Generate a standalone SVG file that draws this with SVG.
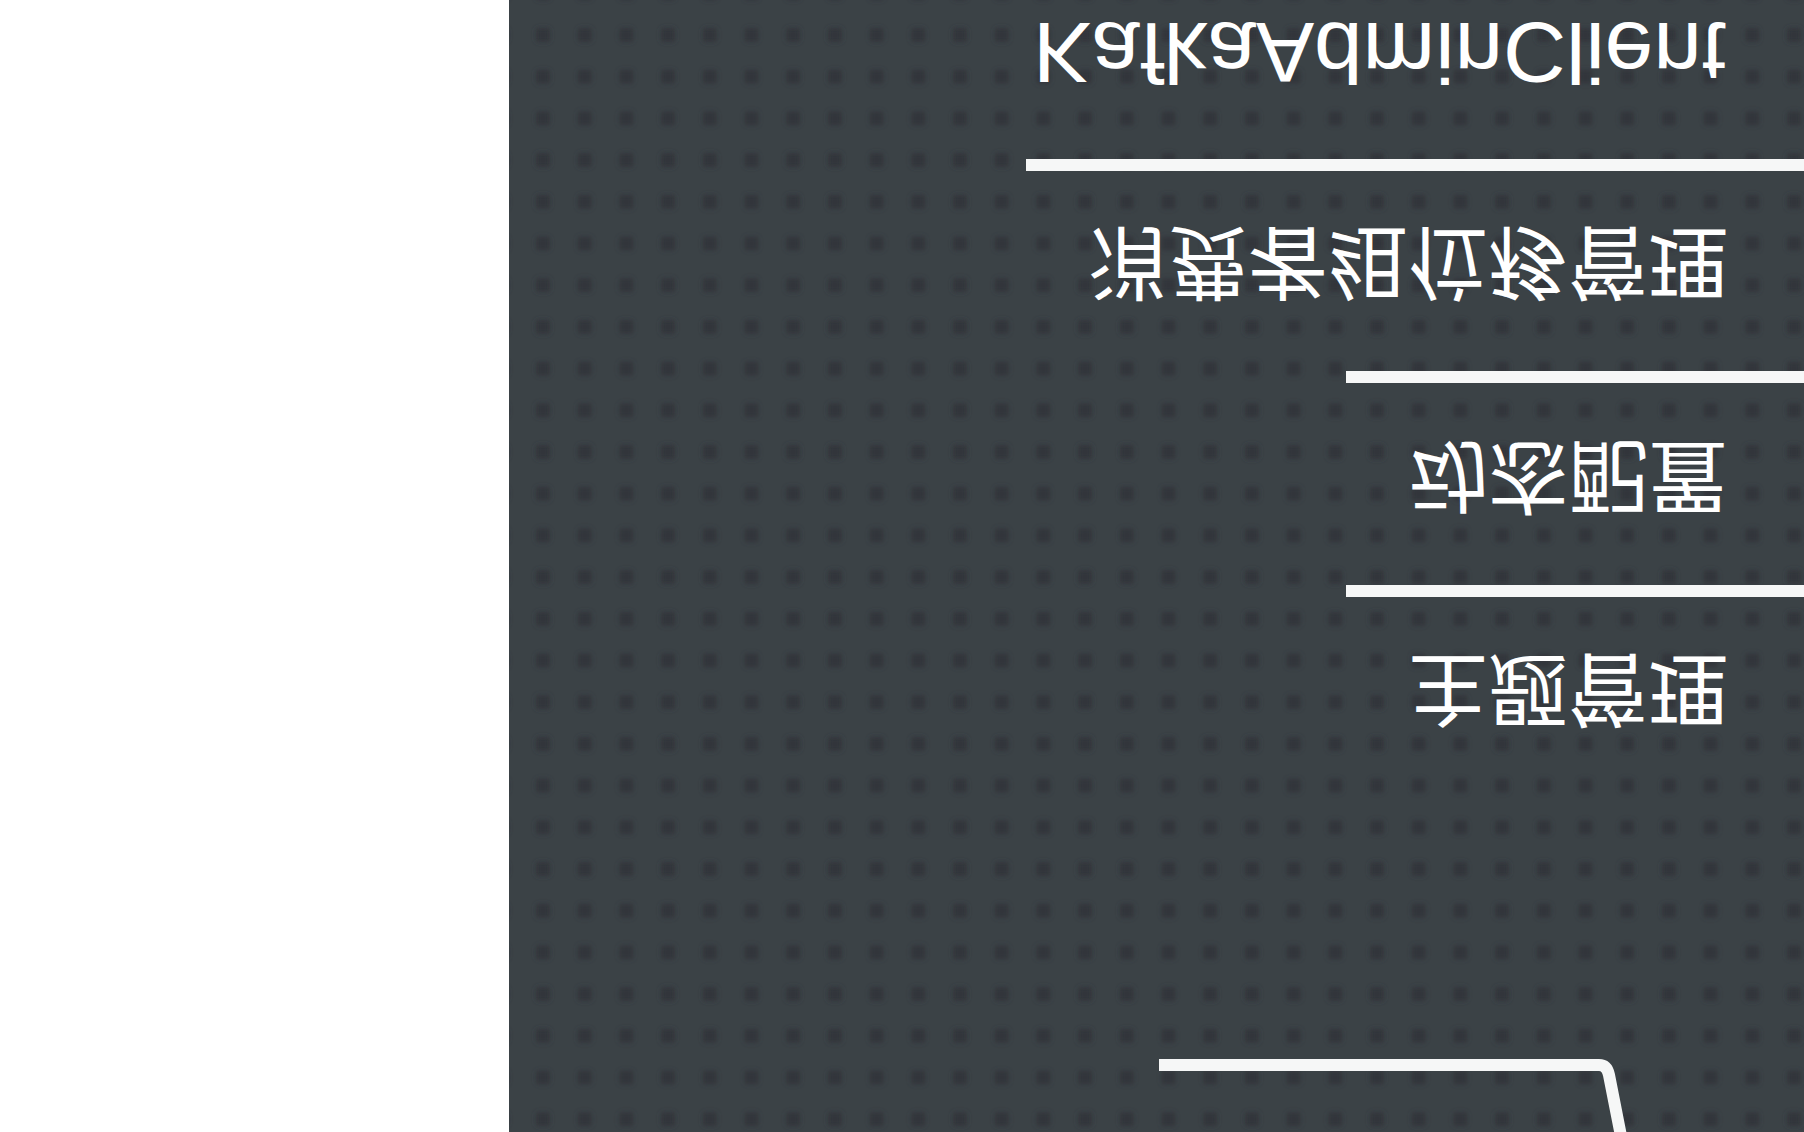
<svg xmlns="http://www.w3.org/2000/svg" width="1804" height="1132" viewBox="0 0 1804 1132">
  <defs>
    <filter id="soft" x="-50%" y="-50%" width="200%" height="200%">
      <feGaussianBlur stdDeviation="2.5"/>
    </filter>
    <pattern id="dots" x="522.15" y="14.15" width="41.7" height="41.7" patternUnits="userSpaceOnUse">
      <rect width="41.7" height="41.7" fill="#3b4246"/>
      <rect x="13.85" y="13.85" width="14" height="14" rx="3" fill="#30363a" filter="url(#soft)"/>
    </pattern>
    <style>
      .lbl-cjk { font-family: "Noto Sans CJK SC", "Noto Sans", sans-serif; font-size: 80px; fill: #ffffff; text-anchor: end; }
      .lbl-lat { font-family: "Liberation Sans", Arial, sans-serif; font-size: 85px; fill: #ffffff; }
      .rule { fill: none; stroke: #f6f7f7; stroke-width: 12; stroke-linecap: butt; stroke-linejoin: round; }
    </style>
  </defs>

  <rect x="0" y="0" width="1804" height="1132" fill="#ffffff"/>
  <rect x="509" y="0" width="1295" height="1132" fill="url(#dots)"/>

  <g id="connectors">
    <path class="rule" d="M1026 165 H1804"/>
    <path class="rule" d="M1346 377 H1804"/>
    <path class="rule" d="M1346 591 H1804"/>
    <path class="rule" d="M1159 1065 H1599 Q1607 1065 1609 1075 L1621 1136"/>
  </g>

  <g id="node-kafkaadminclient">
    <text class="lbl-lat" transform="matrix(1 0 0 -1 0 23)" x="1033" y="0" textLength="693" lengthAdjust="spacingAndGlyphs">KafkaAdminClient</text>
  </g>

  <g id="node-consumer-group-offset">
    <text class="lbl-cjk" transform="matrix(1 0 0 -1 0 234)" x="1728" y="0">消费者组位移管理</text>
  </g>

  <g id="node-dynamic-config">
    <text class="lbl-cjk" transform="matrix(1 0 0 -1 0 448)" x="1728" y="0">动态配置</text>
  </g>

  <g id="node-topic-management">
    <text class="lbl-cjk" transform="matrix(1 0 0 -1 0 661)" x="1728" y="0">主题管理</text>
  </g>
</svg>
